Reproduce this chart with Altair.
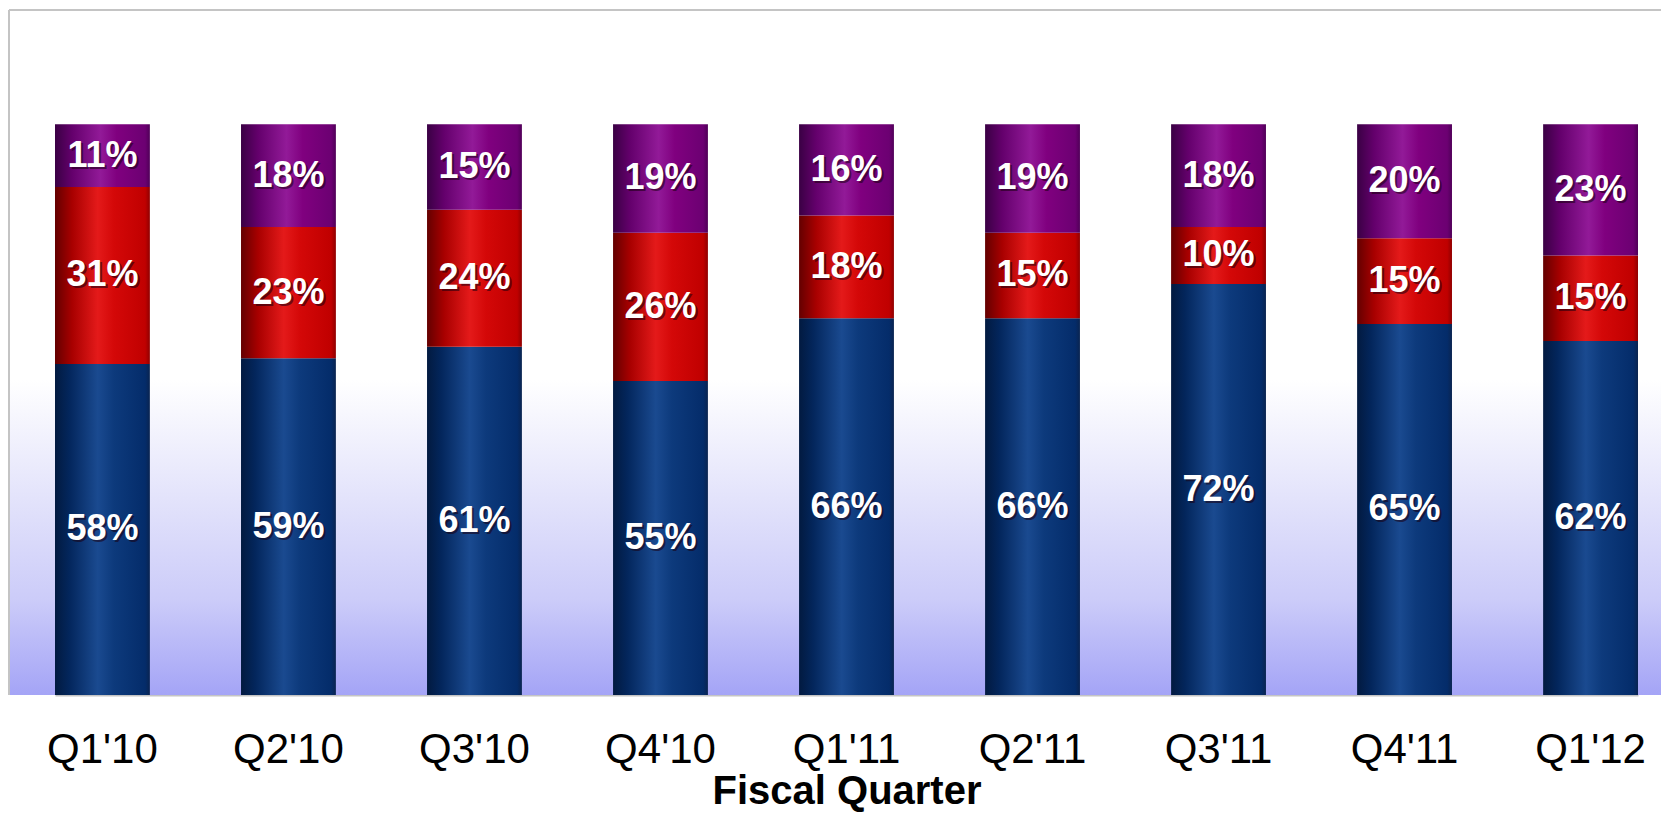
import altair as alt
import pandas as pd

# ---- data ----
quarters = ["Q1'10", "Q2'10", "Q3'10", "Q4'10", "Q1'11", "Q2'11", "Q3'11", "Q4'11", "Q1'12"]
blue_vals = [58, 59, 61, 55, 66, 66, 72, 65, 62]
red_vals = [31, 23, 24, 26, 18, 15, 10, 15, 15]
purple_vals = [11, 18, 15, 19, 16, 19, 18, 20, 23]
series_names = ["Series 1", "Series 2", "Series 3"]

rows = []
for i, q in enumerate(quarters):
    for order, (s, vals) in enumerate(zip(series_names, [blue_vals, red_vals, purple_vals])):
        rows.append({"quarter": q, "series": s, "order": order, "value": vals[i]})
df = pd.DataFrame(rows)

W, H = 1652, 685
FONT = "Liberation Sans"


def hgrad(stops):
    return alt.Gradient(gradient="linear", x1=0, x2=1, y1=0, y2=0,
                        stops=[alt.GradientStop(offset=o, color=c) for o, c in stops])


grads = {
    "Series 1": hgrad([(0, "#021a40"), (0.15, "#03265c"), (0.45, "#1a4a90"), (0.62, "#0d3a7c"), (0.95, "#042c6a"), (1, "#0a2450")]),
    "Series 2": hgrad([(0, "#640000"), (0.18, "#a80000"), (0.45, "#e41a1a"), (0.62, "#d40808"), (0.95, "#c00000"), (1, "#900000")]),
    "Series 3": hgrad([(0, "#3a0044"), (0.18, "#64006c"), (0.48, "#921a98"), (0.65, "#80007f"), (0.95, "#6c0072"), (1, "#500058")]),
}

bg_grad = alt.Gradient(gradient="linear", x1=0, x2=0, y1=0, y2=1,
                       stops=[alt.GradientStop(offset=0, color="#ffffff"),
                              alt.GradientStop(offset=0.54, color="#ffffff"),
                              alt.GradientStop(offset=0.72, color="#e2e2fb"),
                              alt.GradientStop(offset=0.86, color="#ccccf9"),
                              alt.GradientStop(offset=1, color="#a4a4f6")])

x_enc = alt.X("quarter:N", sort=quarters,
              scale=alt.Scale(range=[46, 1629], paddingInner=0.49, paddingOuter=0),
              title="Fiscal Quarter",
              axis=alt.Axis(labelFont=FONT, labelFontSize=42, labelColor="#000000", labelAngle=0,
                            labelPadding=34, labelOverlap=False, ticks=False, tickSize=0,
                            domainColor="#c4c4c4", domainWidth=2, grid=False,
                            titleFont=FONT, titleFontSize=40, titleFontWeight="bold",
                            titleColor="#000000", titleY=108, titleBaseline="alphabetic"))
yscale = alt.Scale(domain=[0, 120], nice=False, zero=True)

one = alt.Data(values=[{"a": 1}])

background = alt.Chart(one).mark_rect(color=bg_grad).encode(
    x=alt.value(0), x2=alt.value(W), y=alt.value(0), y2=alt.value(H))

frame_left = alt.Chart(one).mark_rule(color="#c4c4c4", strokeWidth=2).encode(
    x=alt.value(0), y=alt.value(0), y2=alt.value(H))
frame_top = alt.Chart(one).mark_rule(color="#c4c4c4", strokeWidth=2).encode(
    x=alt.value(0), x2=alt.value(W), y=alt.value(0))

base = alt.Chart(df).transform_stack(
    stack="value", groupby=["quarter"], as_=["y0", "y1"],
    sort=[alt.SortField("order", order="ascending")]
).transform_calculate(
    mid="(datum.y0 + datum.y1) / 2",
    label="datum.value + '%'"
)

bar_layers = []
for s in series_names:
    bar_layers.append(
        base.transform_filter(alt.datum.series == s).mark_bar(color=grads[s]).encode(
            x=x_enc,
            y=alt.Y("y0:Q", scale=yscale, axis=None),
            y2="y1:Q",
        )
    )

shadow = base.mark_text(font=FONT, fontSize=36, fontWeight="bold", color="#1a0010",
                        opacity=0.55, dx=2, dy=2, baseline="middle", align="center").encode(
    x=x_enc, y=alt.Y("mid:Q", scale=yscale, axis=None), text="label:N")

labels = base.mark_text(font=FONT, fontSize=36, fontWeight="bold", color="#ffffff",
                        baseline="middle", align="center").encode(
    x=x_enc, y=alt.Y("mid:Q", scale=yscale, axis=None), text="label:N")

chart = alt.layer(background, *bar_layers, shadow, labels, frame_left, frame_top).properties(
    width=W, height=H,
    autosize=alt.AutoSizeParams(type="none"),
    padding={"left": 1, "top": 2, "right": 0, "bottom": 117},
    background="#ffffff",
).configure_view(stroke=None)

chart.save("out.html", embed_options={"renderer": "svg", "actions": False})
